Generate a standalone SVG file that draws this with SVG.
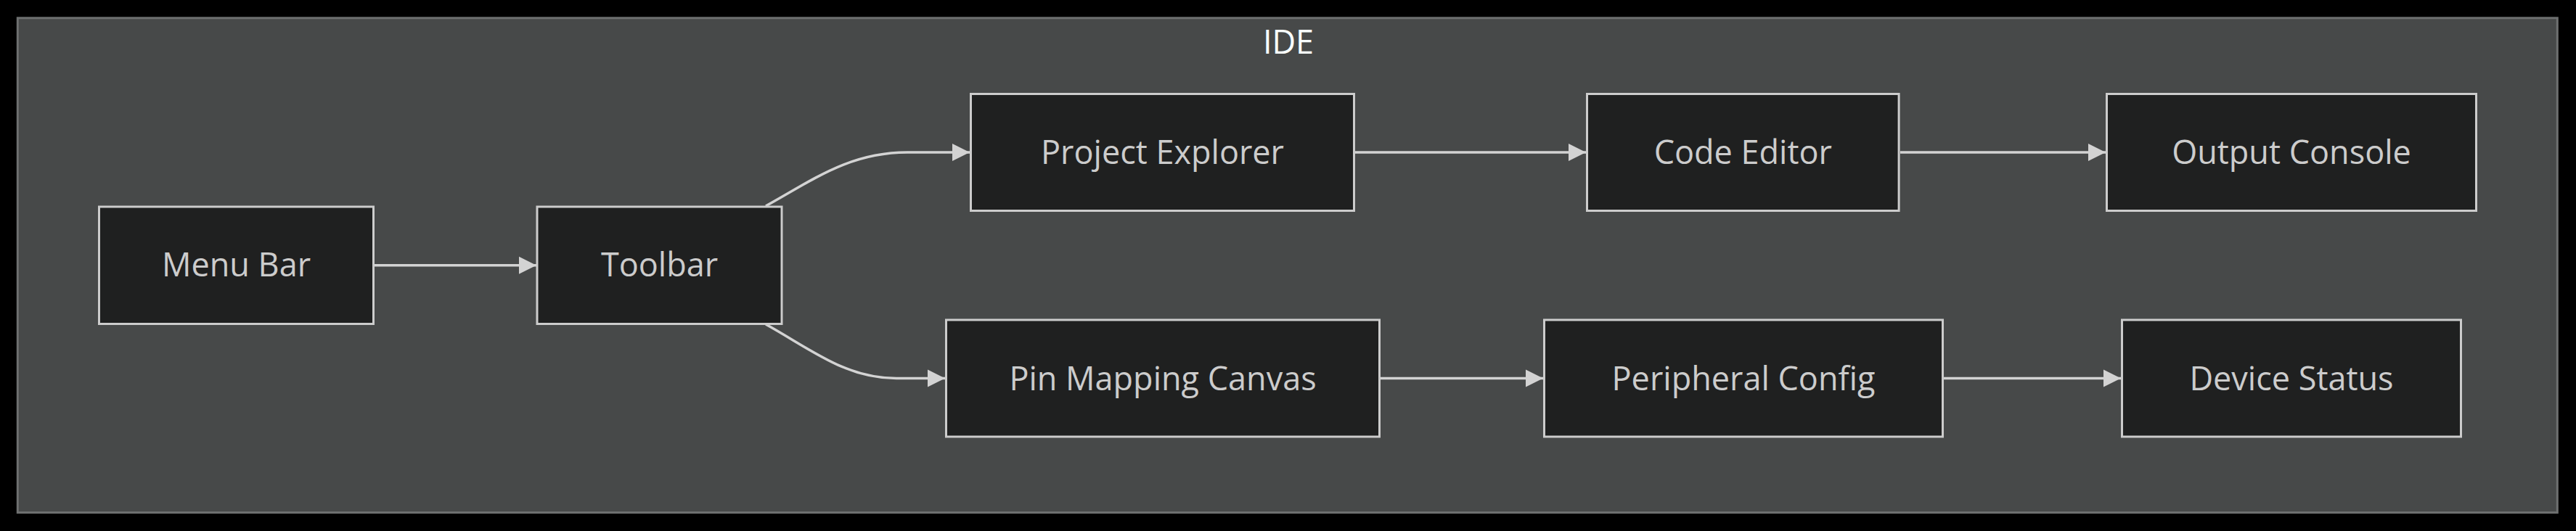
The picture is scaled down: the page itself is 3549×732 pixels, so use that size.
<svg xmlns="http://www.w3.org/2000/svg" width="3549" height="732" viewBox="0 0 3549 732">
  <style>
    .node rect { fill: #1f2020; stroke: #cccccc; stroke-width: 3; }
    .node text { fill: #cccccc; font-family: "Open Sans", "Noto Sans", "Liberation Sans", sans-serif; font-size: 45px; text-anchor: middle; }
    .edge { fill: none; stroke: #d3d3d3; stroke-width: 3.5; marker-end: url(#arrow); }
    .cluster-label { fill: #f9fffe; font-family: "Open Sans", "Noto Sans", "Liberation Sans", sans-serif; font-size: 45px; text-anchor: middle; }
  </style>
  <defs>
    <marker id="arrow" viewBox="0 0 10 10" refX="10" refY="5" markerUnits="userSpaceOnUse" markerWidth="24" markerHeight="25" orient="auto">
      <path d="M0,0 L10,5 L0,10 z" fill="#d3d3d3"/>
    </marker>
  </defs>
  <rect x="0" y="0" width="3549" height="732" fill="#000000"/>
  <g id="cluster-IDE">
    <rect x="24.3" y="24.8" width="3499" height="681.8" fill="#474949" stroke="#6e7070" stroke-width="3"/>
    <text class="cluster-label" x="1775" y="74">IDE</text>
  </g>
  <g id="edges">
    <path class="edge" d="M515,365.7 L739,365.7"/>
    <path class="edge" d="M1055,284 C1120,248 1170,210 1250,210 L1336,210"/>
    <path class="edge" d="M1055,447 C1118,482 1165,521.5 1235,521.5 L1302,521.5"/>
    <path class="edge" d="M1867,210 L2185,210"/>
    <path class="edge" d="M2618,210 L2901,210"/>
    <path class="edge" d="M1902,521.5 L2126,521.5"/>
    <path class="edge" d="M2678,521.5 L2922,521.5"/>
  </g>
  <g id="node-menu-bar" class="node">
    <rect x="136.5" y="285" width="378" height="161.5"/>
    <text x="325.5" y="381">Menu Bar</text>
  </g>
  <g id="node-toolbar" class="node">
    <rect x="740" y="285" width="337" height="161.5"/>
    <text x="908.5" y="381">Toolbar</text>
  </g>
  <g id="node-project-explorer" class="node">
    <rect x="1337.5" y="129.5" width="528" height="161"/>
    <text x="1601.5" y="226">Project Explorer</text>
  </g>
  <g id="node-code-editor" class="node">
    <rect x="2186.5" y="129.5" width="429.6" height="161"/>
    <text x="2401.3" y="226">Code Editor</text>
  </g>
  <g id="node-output-console" class="node">
    <rect x="2902.5" y="129.5" width="509" height="161"/>
    <text x="3157" y="226">Output Console</text>
  </g>
  <g id="node-pin-mapping-canvas" class="node">
    <rect x="1303.5" y="441" width="597" height="161"/>
    <text x="1602" y="537.5">Pin Mapping Canvas</text>
  </g>
  <g id="node-peripheral-config" class="node">
    <rect x="2127.5" y="441" width="549" height="161"/>
    <text x="2402" y="537.5">Peripheral Config</text>
  </g>
  <g id="node-device-status" class="node">
    <rect x="2923.5" y="441" width="467" height="161"/>
    <text x="3157" y="537.5">Device Status</text>
  </g>
</svg>
